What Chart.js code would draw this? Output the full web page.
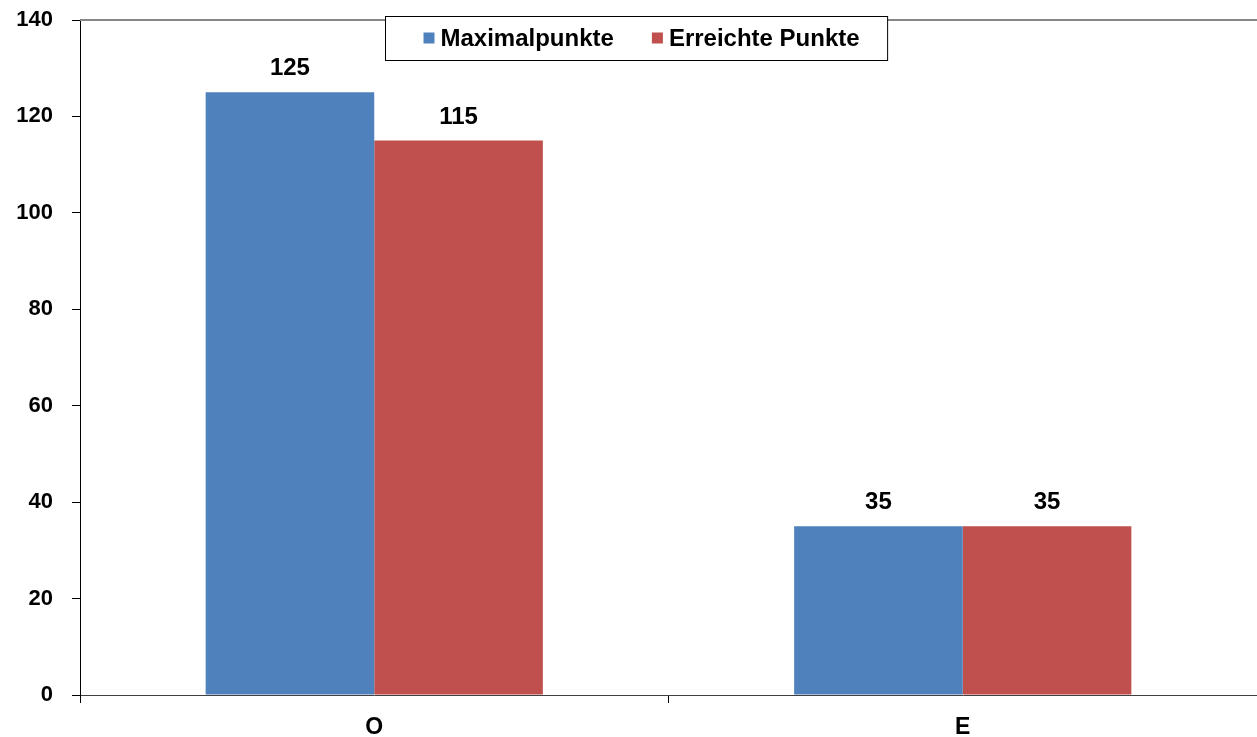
<!DOCTYPE html>
<html lang="de">
<head>
    <meta charset="UTF-8">
    <title>Maximalpunkte / Erreichte Punkte</title>
    <script src="https://cdn.jsdelivr.net/npm/chart.js"></script>
    <style>
        html, body { margin: 0; padding: 0; background: #fff; }
        #wrap { width: 1257px; height: 737px; position: relative; }
    </style>
</head>
<body>
    <div id="wrap">
        <canvas id="punkteChart"></canvas>
    </div>

    <script>
        // Data
        var categories = ['O', 'E'];
        var maximalpunkte = [125, 35];
        var erreichtePunkte = [115, 35];
        var yTicks = [0, 20, 40, 60, 80, 100, 120, 140];

        var FONT = '"Liberation Sans", Arial, sans-serif';

        // value labels above each bar
        var valueLabels = {
            id: 'valueLabels',
            afterDatasetsDraw: function(chart) {
                var ctx = chart.ctx;
                ctx.save();
                ctx.font = 'bold 24px ' + FONT;
                ctx.fillStyle = '#000';
                ctx.textAlign = 'center';
                ctx.textBaseline = 'alphabetic';
                chart.data.datasets.forEach(function(ds, i) {
                    chart.getDatasetMeta(i).data.forEach(function(bar, j) {
                        ctx.fillText(String(ds.data[j]), bar.x, bar.y - 17);
                    });
                });
                ctx.restore();
            }
        };

        // grey frame line on top of the plot area
        var topLine = {
            id: 'topLine',
            beforeDatasetsDraw: function(chart) {
                var a = chart.chartArea, ctx = chart.ctx;
                ctx.save();
                ctx.strokeStyle = '#868686';
                ctx.lineWidth = 2;
                ctx.beginPath();
                ctx.moveTo(a.left, a.top);
                ctx.lineTo(a.right, a.top);
                ctx.stroke();
                ctx.restore();
            }
        };

        // boxed legend sitting on the top edge of the plot
        var boxLegend = {
            id: 'boxLegend',
            afterDraw: function(chart) {
                var ctx = chart.ctx;
                var ds = chart.data.datasets;
                ctx.save();
                ctx.font = 'bold 24px ' + FONT;
                var sq = 11, gapSq = 6, gapItem = 38, padL = 38, padR = 28;
                var widths = ds.map(function(d) { return ctx.measureText(d.label).width; });
                var total = padL + padR;
                widths.forEach(function(w, i) {
                    total += sq + gapSq + w + (i < widths.length - 1 ? gapItem : 0);
                });
                var cx = 636, top = 16, h = 44;
                var left = Math.round(cx - total / 2) + 0.5;
                ctx.fillStyle = '#fff';
                ctx.fillRect(left, top, total, h);
                ctx.strokeStyle = '#000';
                ctx.lineWidth = 1;
                ctx.strokeRect(left, top + 0.5, total, h);
                var x = left + padL, midY = top + h / 2;
                ctx.textBaseline = 'middle';
                ctx.textAlign = 'left';
                ds.forEach(function(d, i) {
                    ctx.fillStyle = d.backgroundColor;
                    ctx.fillRect(x, midY - sq / 2, sq, sq);
                    x += sq + gapSq;
                    ctx.fillStyle = '#000';
                    ctx.fillText(d.label, x, midY + 1);
                    x += widths[i] + gapItem;
                });
                ctx.restore();
            }
        };

        var ctx = document.getElementById('punkteChart').getContext('2d');
        new Chart(ctx, {
            type: 'bar',
            data: {
                labels: categories,
                datasets: [
                    {
                        label: 'Maximalpunkte',
                        data: maximalpunkte,
                        backgroundColor: '#4F81BD',
                        borderWidth: 0
                    },
                    {
                        label: 'Erreichte Punkte',
                        data: erreichtePunkte,
                        backgroundColor: '#C0504D',
                        borderWidth: 0
                    }
                ]
            },
            options: {
                responsive: true,
                maintainAspectRatio: false,
                animation: false,
                datasets: {
                    bar: { categoryPercentage: 0.573, barPercentage: 1.0 }
                },
                layout: { padding: { top: 20, right: 0, left: 0, bottom: 0 } },
                scales: {
                    x: {
                        offset: true,
                        grid: {
                            offset: true,
                            drawOnChartArea: false,
                            drawTicks: true,
                            tickLength: 8,
                            color: '#000'
                        },
                        border: { color: '#404040', width: 1 },
                        ticks: {
                            color: '#000',
                            padding: 11,
                            font: { family: FONT, size: 23, weight: 'bold' }
                        },
                        afterFit: function(scale) {
                            scale.height = 42;
                            scale.paddingLeft = 0;
                            scale.paddingRight = 0;
                        }
                    },
                    y: {
                        min: 0,
                        max: 140,
                        afterBuildTicks: function(scale) {
                            scale.ticks = yTicks.map(function(v) { return { value: v }; });
                        },
                        grid: {
                            drawOnChartArea: false,
                            drawTicks: true,
                            tickLength: 8,
                            color: '#000'
                        },
                        border: { color: '#000', width: 1 },
                        ticks: {
                            color: '#000',
                            padding: 19,
                            font: { family: FONT, size: 22, weight: 'bold' }
                        },
                        afterFit: function(scale) {
                            scale.width = 80;
                            scale.paddingTop = 0;
                            scale.paddingBottom = 0;
                        }
                    }
                },
                plugins: {
                    legend: { display: false },
                    tooltip: { enabled: false }
                }
            },
            plugins: [topLine, valueLabels, boxLegend]
        });
    </script>
</body>
</html>
